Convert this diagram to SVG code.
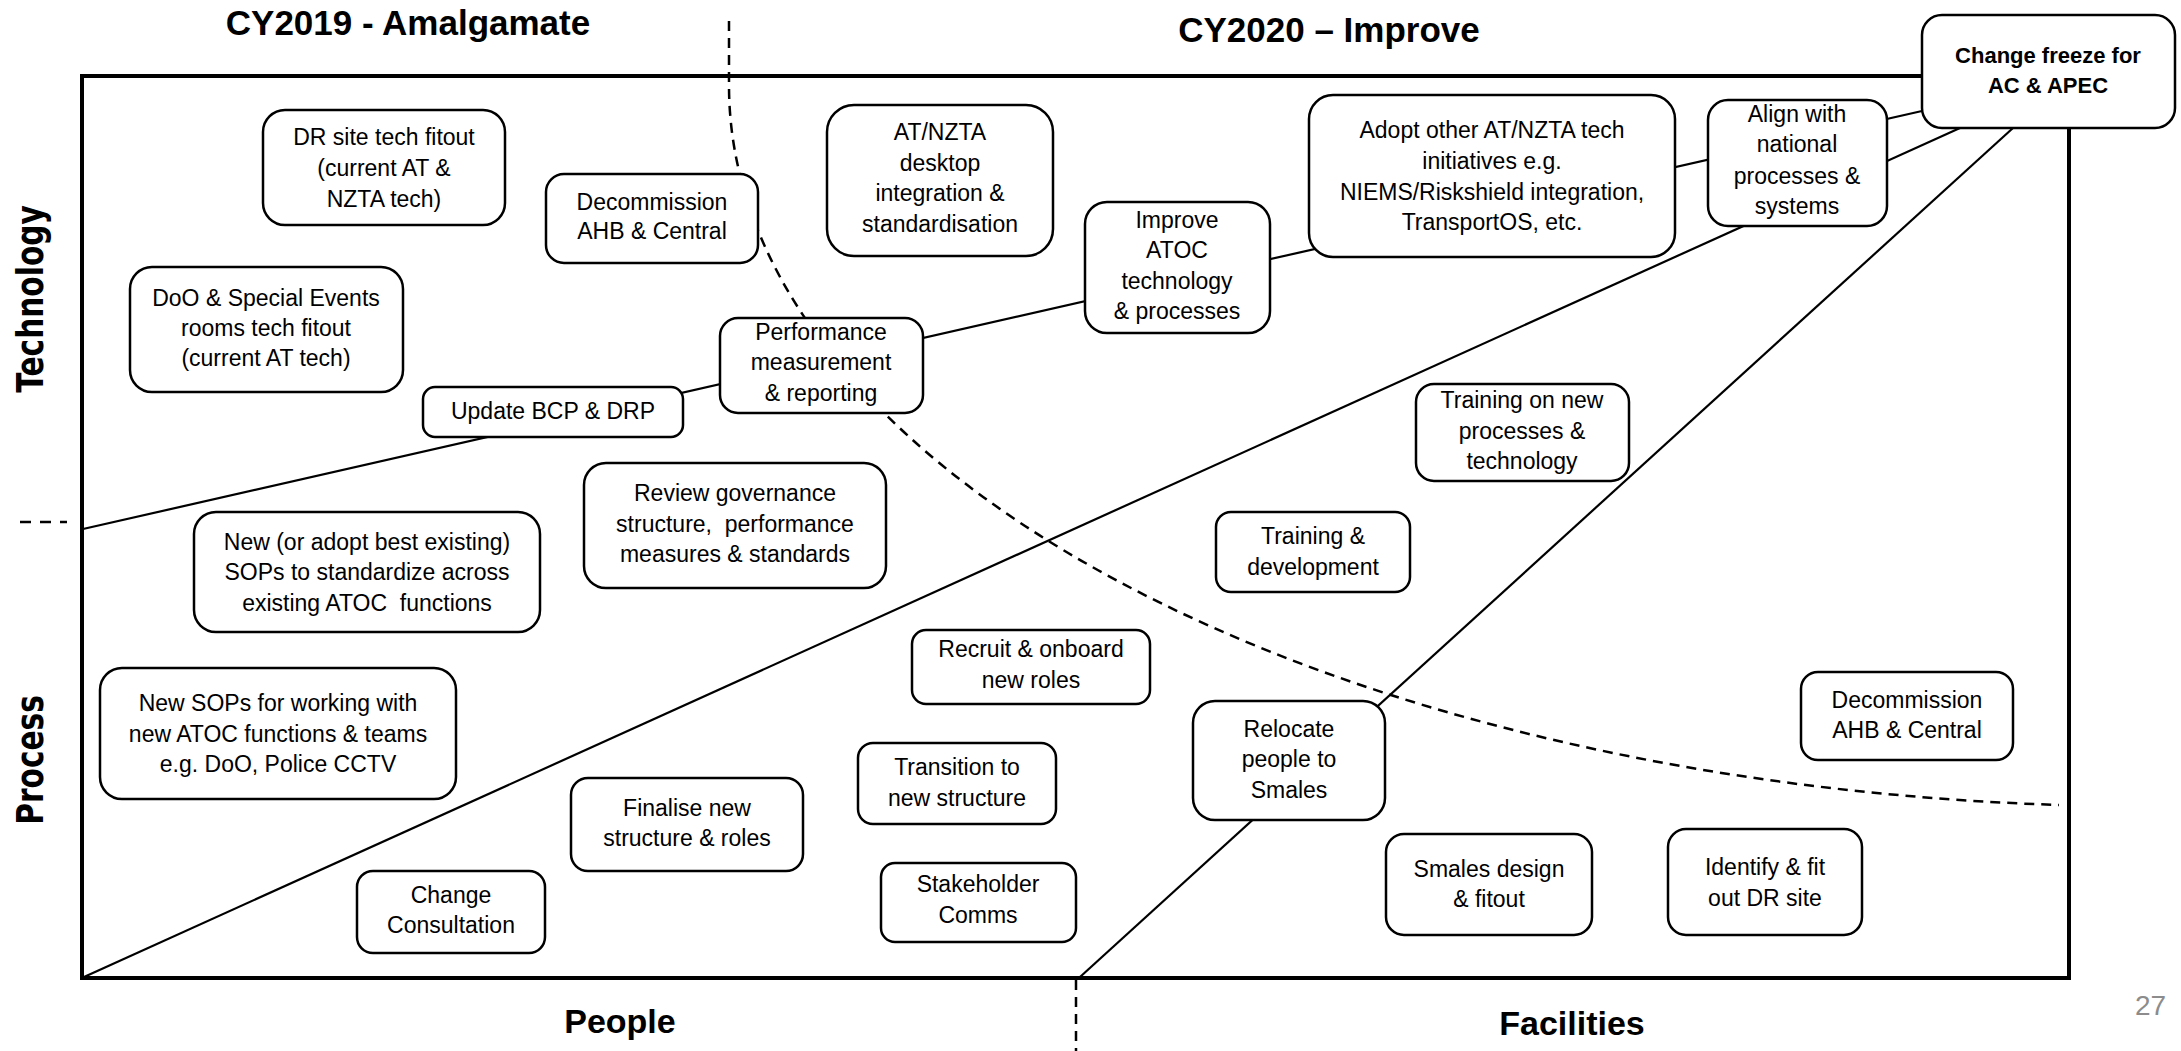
<svg xmlns="http://www.w3.org/2000/svg" width="2181" height="1051" viewBox="0 0 2181 1051">
<style>
.box{fill:#fff;stroke:#000;stroke-width:2.5}
.t{font-family:"Liberation Sans",Arial,sans-serif;font-size:23px;text-anchor:middle;fill:#000}
.tb{font-family:"Liberation Sans",Arial,sans-serif;font-size:22px;font-weight:bold;text-anchor:middle;fill:#000}
.hd{font-family:"Liberation Sans",Arial,sans-serif;font-size:35px;font-weight:bold;text-anchor:middle;fill:#000}
.ax{font-family:"DejaVu Sans",Verdana,sans-serif;font-size:38px;font-weight:bold;text-anchor:middle;fill:#000}
.ln{stroke:#000;stroke-width:2.2;fill:none}
.dash{stroke:#000;stroke-width:2.5;fill:none;stroke-dasharray:10 7}
</style>
<rect width="2181" height="1051" fill="#fff"/>
<g id="labels">
<text class="hd" x="408" y="35">CY2019 - Amalgamate</text>
<text class="hd" x="1329" y="42">CY2020 – Improve</text>
<text class="hd" x="620" y="1033" style="font-size:34px">People</text>
<text class="hd" x="1572" y="1035" style="font-size:34px">Facilities</text>
<text class="ax" transform="translate(43,299) rotate(-90) scale(0.78,1)">Technology</text>
<text class="ax" transform="translate(43,760) rotate(-90) scale(0.78,1)">Process</text>
<text x="2135" y="1015" style="font-family:'Liberation Sans',Arial,sans-serif;font-size:28px;fill:#8c8c8c">27</text>
</g>
<g id="frame">
<rect x="82" y="76" width="1987" height="902" fill="none" stroke="#000" stroke-width="4"/>
</g>
<g id="connectors">
<path class="ln" d="M83,529 L1922,111"/>
<path class="ln" d="M84,977 L1960,128"/>
<path class="ln" d="M1080,977 L2013,128"/>
<path class="dash" d="M729,21 L729,85 A1421,721 0 0 0 2059,805"/>
<path class="dash" d="M1076,980 L1076,1051"/>
<path class="dash" style="stroke-dasharray:11 9" d="M20,522 L67,522"/>
</g>
<g id="n-drsite"><rect class="box" x="263" y="110" width="242" height="115" rx="22"/><text class="t"><tspan x="384" y="145">DR site tech fitout</tspan><tspan x="384" y="176">(current AT &amp;</tspan><tspan x="384" y="207">NZTA tech)</tspan></text></g>
<g id="n-decom1"><rect class="box" x="546" y="174" width="212" height="89" rx="18"/><text class="t"><tspan x="652" y="210">Decommission</tspan><tspan x="652" y="239">AHB &amp; Central</tspan></text></g>
<g id="n-doo"><rect class="box" x="130" y="267" width="273" height="125" rx="22"/><text class="t"><tspan x="266" y="306">DoO &amp; Special Events</tspan><tspan x="266" y="336">rooms tech fitout</tspan><tspan x="266" y="366">(current AT tech)</tspan></text></g>
<g id="n-bcp"><rect class="box" x="423" y="387" width="260" height="50" rx="12"/><text class="t"><tspan x="553" y="419">Update BCP &amp; DRP</tspan></text></g>
<g id="n-perf"><rect class="box" x="720" y="318" width="203" height="95" rx="18"/><text class="t"><tspan x="821" y="340">Performance</tspan><tspan x="821" y="370">measurement</tspan><tspan x="821" y="401">&amp; reporting</tspan></text></g>
<g id="n-desktop"><rect class="box" x="827" y="105" width="226" height="151" rx="27"/><text class="t"><tspan x="940" y="140">AT/NZTA</tspan><tspan x="940" y="171">desktop</tspan><tspan x="940" y="201">integration &amp;</tspan><tspan x="940" y="232">standardisation</tspan></text></g>
<g id="n-improve"><rect class="box" x="1085" y="202" width="185" height="131" rx="22"/><text class="t"><tspan x="1177" y="228">Improve</tspan><tspan x="1177" y="258">ATOC</tspan><tspan x="1177" y="289">technology</tspan><tspan x="1177" y="319">&amp; processes</tspan></text></g>
<g id="n-adopt"><rect class="box" x="1309" y="95" width="366" height="162" rx="24"/><text class="t"><tspan x="1492" y="138">Adopt other AT/NZTA tech</tspan><tspan x="1492" y="169">initiatives e.g.</tspan><tspan x="1492" y="200">NIEMS/Riskshield integration,</tspan><tspan x="1492" y="230">TransportOS, etc.</tspan></text></g>
<g id="n-align"><rect class="box" x="1708" y="100" width="179" height="126" rx="20"/><text class="t"><tspan x="1797" y="122">Align with</tspan><tspan x="1797" y="152">national</tspan><tspan x="1797" y="184">processes &amp;</tspan><tspan x="1797" y="214">systems</tspan></text></g>
<g id="n-freeze"><rect class="box" x="1922" y="15" width="253" height="113" rx="20"/><text class="tb"><tspan x="2048" y="63">Change freeze for</tspan><tspan x="2048" y="93">AC &amp; APEC</tspan></text></g>
<g id="n-trainnew"><rect class="box" x="1416" y="384" width="213" height="97" rx="18"/><text class="t"><tspan x="1522" y="408">Training on new</tspan><tspan x="1522" y="439">processes &amp;</tspan><tspan x="1522" y="469">technology</tspan></text></g>
<g id="n-review"><rect class="box" x="584" y="463" width="302" height="125" rx="22"/><text class="t"><tspan x="735" y="501">Review governance</tspan><tspan x="735" y="532">structure,&#160; performance</tspan><tspan x="735" y="562">measures &amp; standards</tspan></text></g>
<g id="n-sopstd"><rect class="box" x="194" y="512" width="346" height="120" rx="22"/><text class="t"><tspan x="367" y="550">New (or adopt best existing)</tspan><tspan x="367" y="580">SOPs to standardize across</tspan><tspan x="367" y="611">existing ATOC&#160; functions</tspan></text></g>
<g id="n-sopnew"><rect class="box" x="100" y="668" width="356" height="131" rx="22"/><text class="t"><tspan x="278" y="711">New SOPs for working with</tspan><tspan x="278" y="742">new ATOC functions &amp; teams</tspan><tspan x="278" y="772">e.g. DoO, Police CCTV</tspan></text></g>
<g id="n-finalise"><rect class="box" x="571" y="778" width="232" height="93" rx="17"/><text class="t"><tspan x="687" y="816">Finalise new</tspan><tspan x="687" y="846">structure &amp; roles</tspan></text></g>
<g id="n-consult"><rect class="box" x="357" y="871" width="188" height="82" rx="16"/><text class="t"><tspan x="451" y="903">Change</tspan><tspan x="451" y="933">Consultation</tspan></text></g>
<g id="n-recruit"><rect class="box" x="912" y="630" width="238" height="74" rx="14"/><text class="t"><tspan x="1031" y="657">Recruit &amp; onboard</tspan><tspan x="1031" y="688">new roles</tspan></text></g>
<g id="n-transition"><rect class="box" x="858" y="743" width="198" height="81" rx="15"/><text class="t"><tspan x="957" y="775">Transition to</tspan><tspan x="957" y="806">new structure</tspan></text></g>
<g id="n-stake"><rect class="box" x="881" y="863" width="195" height="79" rx="14"/><text class="t"><tspan x="978" y="892">Stakeholder</tspan><tspan x="978" y="923">Comms</tspan></text></g>
<g id="n-training"><rect class="box" x="1216" y="512" width="194" height="80" rx="15"/><text class="t"><tspan x="1313" y="544">Training &amp;</tspan><tspan x="1313" y="575">development</tspan></text></g>
<g id="n-relocate"><rect class="box" x="1193" y="701" width="192" height="119" rx="22"/><text class="t"><tspan x="1289" y="737">Relocate</tspan><tspan x="1289" y="767">people to</tspan><tspan x="1289" y="798">Smales</tspan></text></g>
<g id="n-smales"><rect class="box" x="1386" y="834" width="206" height="101" rx="18"/><text class="t"><tspan x="1489" y="877">Smales design</tspan><tspan x="1489" y="907">&amp; fitout</tspan></text></g>
<g id="n-identify"><rect class="box" x="1668" y="829" width="194" height="106" rx="18"/><text class="t"><tspan x="1765" y="875">Identify &amp; fit</tspan><tspan x="1765" y="906">out DR site</tspan></text></g>
<g id="n-decom2"><rect class="box" x="1801" y="672" width="212" height="88" rx="17"/><text class="t"><tspan x="1907" y="708">Decommission</tspan><tspan x="1907" y="738">AHB &amp; Central</tspan></text></g>
</svg>
